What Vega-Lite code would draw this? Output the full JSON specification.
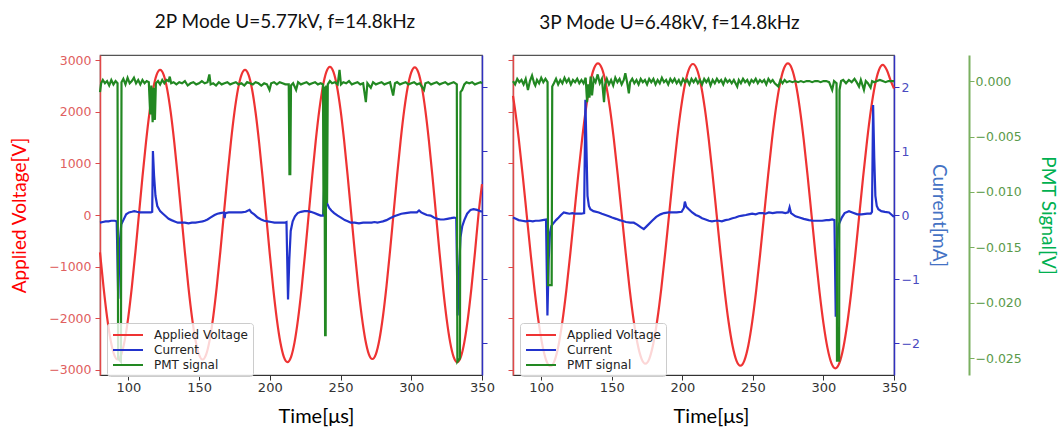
{
"$schema":"https://vega.github.io/schema/vega-lite/v6.json",
"background":"white",
"padding":{"left":10,"top":12,"right":20,"bottom":0},
"config":{"view":{"stroke":"#555","strokeWidth":1.2},"font":"Lato",
"axis":{"grid":false,"labelFont":"DejaVu Sans","labelFontSize":12.5,"titleFont":"Lato","titleFontWeight":"normal","titleFontSize":19,"tickSize":5},
"title":{"font":"Lato","fontSize":19,"fontWeight":"normal","color":"#111"},
"legend":{"orient":"none","legendX":7,"legendY":268,"title":null,"symbolType":"M-2.5,0H2.5","symbolSize":144,"symbolStrokeWidth":2,"symbolOffset":9,"labelOffset":19,"labelFont":"DejaVu Sans","labelFontSize":12,"labelColor":"#222","padding":5,"strokeColor":"#cccccc","fillColor":"rgba(255,255,255,0.8)","cornerRadius":3,"rowPadding":2}},
"datasets":{
"lv":[{"t":80,"v":-722},{"t":82.5,"v":-1398},{"t":85,"v":-1978},{"t":87.5,"v":-2424},{"t":90,"v":-2705},{"t":92.5,"v":-2800},{"t":95,"v":-2705},{"t":97.5,"v":-2424},{"t":100,"v":-1978},{"t":102.5,"v":-1398},{"t":105,"v":-722},{"t":107.5,"v":5},{"t":110,"v":732},{"t":112.5,"v":1408},{"t":115,"v":1988},{"t":117.5,"v":2434},{"t":120,"v":2715},{"t":122.5,"v":2810},{"t":125,"v":2715},{"t":127.5,"v":2434},{"t":130,"v":1988},{"t":132.5,"v":1408},{"t":135,"v":732},{"t":137.5,"v":5},{"t":140,"v":-722},{"t":142.5,"v":-1398},{"t":145,"v":-1978},{"t":147.5,"v":-2424},{"t":150,"v":-2705},{"t":152.5,"v":-2800},{"t":155,"v":-2705},{"t":157.5,"v":-2424},{"t":160,"v":-1978},{"t":162.5,"v":-1398},{"t":165,"v":-722},{"t":167.5,"v":5},{"t":170,"v":732},{"t":172.5,"v":1408},{"t":175,"v":1988},{"t":177.5,"v":2434},{"t":180,"v":2715},{"t":182.5,"v":2810},{"t":185,"v":2714},{"t":187.5,"v":2431},{"t":190,"v":1981},{"t":192.5,"v":1395},{"t":195,"v":713},{"t":197.5,"v":-20},{"t":200,"v":-753},{"t":202.5,"v":-1435},{"t":205,"v":-2021},{"t":207.5,"v":-2471},{"t":210,"v":-2754},{"t":212.5,"v":-2850},{"t":215,"v":-2753},{"t":217.5,"v":-2467},{"t":220,"v":-2012},{"t":222.5,"v":-1420},{"t":225,"v":-731},{"t":227.5,"v":10},{"t":230,"v":751},{"t":232.5,"v":1440},{"t":235,"v":2032},{"t":237.5,"v":2487},{"t":240,"v":2773},{"t":242.5,"v":2870},{"t":245,"v":2774},{"t":247.5,"v":2491},{"t":250,"v":2041},{"t":252.5,"v":1455},{"t":255,"v":773},{"t":257.5,"v":40},{"t":260,"v":-693},{"t":262.5,"v":-1375},{"t":265,"v":-1961},{"t":267.5,"v":-2411},{"t":270,"v":-2694},{"t":272.5,"v":-2790},{"t":275,"v":-2694},{"t":277.5,"v":-2411},{"t":280,"v":-1962},{"t":282.5,"v":-1378},{"t":285,"v":-697},{"t":287.5,"v":35},{"t":290,"v":767},{"t":292.5,"v":1448},{"t":295,"v":2032},{"t":297.5,"v":2481},{"t":300,"v":2764},{"t":302.5,"v":2860},{"t":305,"v":2763},{"t":307.5,"v":2477},{"t":310,"v":2023},{"t":312.5,"v":1433},{"t":315,"v":744},{"t":317.5,"v":5},{"t":320,"v":-734},{"t":322.5,"v":-1423},{"t":325,"v":-2013},{"t":327.5,"v":-2467},{"t":330,"v":-2753},{"t":332.5,"v":-2850},{"t":335,"v":-2753},{"t":337.5,"v":-2467},{"t":340,"v":-2013},{"t":342.5,"v":-1423},{"t":345,"v":-734},{"t":347.5,"v":5},{"t":350,"v":600}],
"lc":[{"t":80,"v":-0.12},{"t":82,"v":-0.11},{"t":84,"v":-0.1},{"t":86,"v":-0.1},{"t":88,"v":-0.09},{"t":90.5,"v":-0.09},{"t":91.8,"v":-0.1},{"t":92.9,"v":-1.31},{"t":93.9,"v":-0.45},{"t":95,"v":-0.15},{"t":96.5,"v":-0.08},{"t":98.5,"v":0.01},{"t":100.5,"v":0.04},{"t":102.5,"v":0.05},{"t":104.2,"v":0.06},{"t":106,"v":0.05},{"t":108,"v":0.04},{"t":110,"v":0.04},{"t":112,"v":0.04},{"t":114,"v":0.04},{"t":116,"v":0.04},{"t":116.9,"v":0.05},{"t":117.4,"v":1.0},{"t":118.2,"v":0.62},{"t":119.2,"v":0.3},{"t":120.5,"v":0.14},{"t":122.5,"v":0.06},{"t":124.5,"v":0.02},{"t":126.5,"v":-0.02},{"t":128.5,"v":-0.06},{"t":130.5,"v":-0.08},{"t":132.8,"v":-0.1},{"t":135,"v":-0.12},{"t":137.5,"v":-0.12},{"t":140,"v":-0.12},{"t":142.5,"v":-0.13},{"t":145,"v":-0.12},{"t":147.5,"v":-0.12},{"t":150,"v":-0.11},{"t":152.5,"v":-0.1},{"t":154,"v":-0.09},{"t":156,"v":-0.07},{"t":158,"v":-0.04},{"t":161,"v":0.0},{"t":163,"v":0.02},{"t":165,"v":0.03},{"t":167.6,"v":0.04},{"t":168.1,"v":-0.05},{"t":168.6,"v":0.03},{"t":171,"v":0.04},{"t":174,"v":0.04},{"t":177.5,"v":0.04},{"t":180,"v":0.04},{"t":183,"v":0.05},{"t":185.7,"v":0.08},{"t":187,"v":0.04},{"t":189,"v":0.01},{"t":191.5,"v":-0.04},{"t":193.9,"v":-0.07},{"t":196,"v":-0.09},{"t":198.5,"v":-0.1},{"t":201,"v":-0.11},{"t":203.3,"v":-0.12},{"t":206,"v":-0.12},{"t":208.5,"v":-0.12},{"t":210.5,"v":-0.12},{"t":211.8,"v":-0.11},{"t":212.9,"v":-1.32},{"t":213.8,"v":-0.7},{"t":214.8,"v":-0.25},{"t":216.2,"v":-0.1},{"t":217.8,"v":-0.02},{"t":219.7,"v":0.03},{"t":222,"v":0.05},{"t":224.5,"v":0.06},{"t":226.8,"v":0.06},{"t":229,"v":0.05},{"t":231.5,"v":0.03},{"t":233.8,"v":0.01},{"t":236,"v":-0.01},{"t":237.7,"v":-0.01},{"t":238.4,"v":0.4},{"t":239.3,"v":0.3},{"t":240.5,"v":0.18},{"t":242,"v":0.11},{"t":243.5,"v":0.07},{"t":245.5,"v":0.03},{"t":248,"v":-0.01},{"t":250.3,"v":-0.04},{"t":253,"v":-0.08},{"t":255.5,"v":-0.1},{"t":257.3,"v":-0.12},{"t":260,"v":-0.12},{"t":263,"v":-0.13},{"t":266,"v":-0.12},{"t":269,"v":-0.12},{"t":272,"v":-0.12},{"t":274,"v":-0.11},{"t":276.1,"v":-0.12},{"t":278,"v":-0.11},{"t":280,"v":-0.1},{"t":282.5,"v":-0.08},{"t":285,"v":-0.05},{"t":287.9,"v":-0.02},{"t":290.5,"v":0.0},{"t":293,"v":0.02},{"t":296,"v":0.03},{"t":299.6,"v":0.04},{"t":302,"v":0.04},{"t":304,"v":0.04},{"t":305.5,"v":0.07},{"t":307,"v":0.04},{"t":309,"v":0.02},{"t":311,"v":0.0},{"t":313.7,"v":-0.01},{"t":316,"v":-0.04},{"t":318.5,"v":-0.06},{"t":320.7,"v":-0.07},{"t":323,"v":-0.07},{"t":325.5,"v":-0.06},{"t":328,"v":-0.05},{"t":330.2,"v":-0.04},{"t":331.8,"v":-0.05},{"t":332.8,"v":-1.57},{"t":333.8,"v":-0.85},{"t":334.8,"v":-0.35},{"t":336,"v":-0.18},{"t":337.5,"v":-0.08},{"t":339.5,"v":0.02},{"t":341.9,"v":0.08},{"t":344,"v":0.09},{"t":346.5,"v":0.08},{"t":349,"v":0.06},{"t":350,"v":0.05}],
"lp":[{"t":80,"v":-0.001},{"t":80.8,"v":-0.0002},{"t":82,"v":0.0001},{"t":83.5,"v":-0.0002},{"t":85,"v":0.0},{"t":86.5,"v":-0.0004},{"t":88,"v":0.0001},{"t":89.5,"v":-0.0003},{"t":91,"v":0.0},{"t":92.4,"v":-0.0002},{"t":92.8,"v":-0.025},{"t":94.8,"v":-0.0253},{"t":95.2,"v":-0.0001},{"t":96.5,"v":0.0002},{"t":98,"v":-0.0003},{"t":99.5,"v":0.0003},{"t":101,"v":-0.0002},{"t":102.5,"v":0.0},{"t":104,"v":0.0003},{"t":105.5,"v":-0.0002},{"t":107,"v":0.0001},{"t":108.5,"v":-0.0003},{"t":110,"v":0.0001},{"t":111.5,"v":-0.0002},{"t":113,"v":0.0},{"t":114.5,"v":-0.0001},{"t":115.5,"v":-0.003},{"t":116.3,"v":-0.0004},{"t":117.2,"v":-0.0037},{"t":118,"v":-0.0006},{"t":118.8,"v":-0.0035},{"t":119.5,"v":-0.0002},{"t":121,"v":0.0},{"t":122.5,"v":-0.0003},{"t":124,"v":0.0001},{"t":125.5,"v":-0.0002},{"t":127,"v":0.0001},{"t":128.5,"v":0.0},{"t":129.3,"v":0.0004},{"t":130.3,"v":-0.0002},{"t":132,"v":-0.0001},{"t":134,"v":-0.0003},{"t":136,"v":-0.0001},{"t":138,"v":-0.0002},{"t":140,"v":0.0},{"t":142,"v":-0.0004},{"t":144,"v":-0.0002},{"t":146,"v":-0.0001},{"t":148,"v":-0.0003},{"t":150,"v":-0.0002},{"t":152,"v":0.0},{"t":154,"v":-0.0002},{"t":156,"v":-0.0001},{"t":157.3,"v":0.0006},{"t":158.2,"v":-0.0003},{"t":160,"v":-0.0002},{"t":162,"v":-0.0004},{"t":164,"v":-0.0001},{"t":166,"v":-0.0003},{"t":168,"v":-0.0002},{"t":170,"v":-0.0001},{"t":172,"v":-0.0003},{"t":174,"v":-0.0002},{"t":176,"v":-0.0001},{"t":178,"v":-0.0003},{"t":180,"v":-0.0002},{"t":182,"v":-0.0004},{"t":184,"v":-0.0001},{"t":186,"v":-0.0002},{"t":188,"v":-0.0003},{"t":190,"v":-0.0001},{"t":192,"v":-0.0002},{"t":194,"v":-0.0004},{"t":196,"v":-0.0002},{"t":198,"v":-0.0003},{"t":199.8,"v":-0.0008},{"t":201,"v":-0.0002},{"t":203,"v":-0.0001},{"t":205,"v":-0.0003},{"t":207,"v":-0.0001},{"t":209,"v":-0.0002},{"t":211,"v":-0.0003},{"t":213.4,"v":-0.0003},{"t":213.9,"v":-0.0084},{"t":214.5,"v":-0.0084},{"t":215,"v":-0.0004},{"t":216.5,"v":-0.0002},{"t":218.6,"v":-0.0008},{"t":220,"v":-0.0001},{"t":222,"v":-0.0003},{"t":224,"v":-0.0002},{"t":226,"v":-0.0001},{"t":228,"v":-0.0003},{"t":230,"v":-0.0002},{"t":232,"v":-0.0001},{"t":234,"v":-0.0003},{"t":236,"v":-0.0002},{"t":237.6,"v":-0.0003},{"t":238,"v":-0.012},{"t":238.6,"v":-0.0005},{"t":239.1,"v":-0.0229},{"t":239.5,"v":-0.0229},{"t":239.9,"v":-0.0004},{"t":240.5,"v":-0.011},{"t":241,"v":-0.0003},{"t":242.5,"v":0.0},{"t":244,"v":-0.0002},{"t":246,"v":-0.0001},{"t":248,"v":-0.0003},{"t":249.3,"v":0.001},{"t":250.3,"v":-0.0003},{"t":252,"v":-0.0001},{"t":254,"v":-0.0002},{"t":256,"v":0.0},{"t":258,"v":-0.0003},{"t":260,"v":-0.0002},{"t":262,"v":-0.0001},{"t":264,"v":-0.0003},{"t":266,"v":-0.0002},{"t":267.9,"v":-0.0019},{"t":269,"v":-0.0002},{"t":271.4,"v":-0.0006},{"t":273,"v":-0.0001},{"t":275,"v":-0.0003},{"t":277,"v":-0.0002},{"t":279,"v":-0.0001},{"t":281,"v":-0.0003},{"t":283,"v":-0.0002},{"t":285,"v":-0.0001},{"t":287.2,"v":-0.0013},{"t":288.5,"v":-0.0002},{"t":290,"v":-0.0001},{"t":292,"v":-0.0003},{"t":294,"v":-0.0002},{"t":296,"v":-0.0001},{"t":298,"v":-0.0003},{"t":300,"v":-0.0002},{"t":302,"v":-0.0001},{"t":304,"v":-0.0003},{"t":306,"v":-0.0002},{"t":309,"v":-0.0008},{"t":310,"v":-0.0002},{"t":312,"v":-0.0001},{"t":314,"v":-0.0003},{"t":316,"v":-0.0002},{"t":318,"v":-0.0001},{"t":320,"v":-0.0003},{"t":322,"v":-0.0002},{"t":324,"v":-0.0001},{"t":326,"v":-0.0003},{"t":328,"v":-0.0002},{"t":330,"v":-0.0001},{"t":332.2,"v":-0.0003},{"t":332.6,"v":-0.0253},{"t":334.4,"v":-0.025},{"t":334.8,"v":-0.001},{"t":336,"v":-0.0008},{"t":337.5,"v":-0.0003},{"t":339,"v":-0.0001},{"t":341,"v":-0.0002},{"t":343,"v":-0.0001},{"t":345,"v":-0.0003},{"t":347,"v":-0.0002},{"t":349,"v":-0.0001},{"t":350,"v":-0.0002}],
"rv":[{"t":80,"v":2309},{"t":81.31,"v":2072},{"t":84.12,"v":1465},{"t":86.92,"v":759},{"t":89.72,"v":0},{"t":92.53,"v":-759},{"t":95.33,"v":-1465},{"t":98.14,"v":-2072},{"t":100.94,"v":-2537},{"t":103.74,"v":-2830},{"t":106.55,"v":-2930},{"t":109.35,"v":-2830},{"t":112.16,"v":-2537},{"t":114.96,"v":-2070},{"t":117.77,"v":-1463},{"t":120.57,"v":-756},{"t":123.38,"v":4},{"t":126.18,"v":764},{"t":128.98,"v":1471},{"t":131.79,"v":2078},{"t":134.59,"v":2545},{"t":137.4,"v":2838},{"t":140.2,"v":2938},{"t":142.99,"v":2839},{"t":145.79,"v":2548},{"t":148.6,"v":2086},{"t":151.4,"v":1484},{"t":154.21,"v":782},{"t":157.01,"v":29},{"t":159.82,"v":-724},{"t":162.62,"v":-1426},{"t":165.43,"v":-2028},{"t":168.23,"v":-2490},{"t":171.04,"v":-2781},{"t":173.85,"v":-2880},{"t":176.65,"v":-2781},{"t":179.46,"v":-2491},{"t":182.26,"v":-2029},{"t":185.07,"v":-1429},{"t":187.87,"v":-729},{"t":190.68,"v":23},{"t":193.48,"v":775},{"t":196.29,"v":1475},{"t":199.09,"v":2075},{"t":201.9,"v":2537},{"t":204.7,"v":2827},{"t":207.5,"v":2926},{"t":210.3,"v":2827},{"t":213.11,"v":2534},{"t":215.91,"v":2070},{"t":218.72,"v":1465},{"t":221.52,"v":760},{"t":224.33,"v":3},{"t":227.13,"v":-754},{"t":229.94,"v":-1459},{"t":232.74,"v":-2064},{"t":235.55,"v":-2528},{"t":238.35,"v":-2821},{"t":241.15,"v":-2920},{"t":243.95,"v":-2820},{"t":246.76,"v":-2528},{"t":249.56,"v":-2062},{"t":252.37,"v":-1456},{"t":255.17,"v":-750},{"t":257.98,"v":9},{"t":260.78,"v":768},{"t":263.59,"v":1474},{"t":266.39,"v":2080},{"t":269.2,"v":2546},{"t":272,"v":2838},{"t":274.8,"v":2938},{"t":277.6,"v":2838},{"t":280.41,"v":2542},{"t":283.21,"v":2072},{"t":286.02,"v":1461},{"t":288.82,"v":749},{"t":291.63,"v":-16},{"t":294.43,"v":-781},{"t":297.24,"v":-1493},{"t":300.04,"v":-2104},{"t":302.85,"v":-2574},{"t":305.65,"v":-2870},{"t":308.45,"v":-2970},{"t":311.25,"v":-2870},{"t":314.06,"v":-2576},{"t":316.86,"v":-2109},{"t":319.67,"v":-1501},{"t":322.47,"v":-793},{"t":325.28,"v":-31},{"t":328.08,"v":730},{"t":330.89,"v":1438},{"t":333.69,"v":2046},{"t":336.5,"v":2513},{"t":339.3,"v":2807},{"t":342.1,"v":2907},{"t":344.9,"v":2808},{"t":347.71,"v":2600},{"t":350,"v":2450}],
"rc":[{"t":80,"v":-0.04},{"t":82,"v":-0.06},{"t":84,"v":-0.08},{"t":86.4,"v":-0.09},{"t":89,"v":-0.1},{"t":91.5,"v":-0.09},{"t":94,"v":-0.1},{"t":96,"v":-0.09},{"t":98.5,"v":-0.09},{"t":101,"v":-0.08},{"t":103.4,"v":-0.07},{"t":104.4,"v":-1.57},{"t":105.3,"v":-0.7},{"t":106.2,"v":-0.28},{"t":107.2,"v":-0.17},{"t":109,"v":-0.12},{"t":110.5,"v":-0.08},{"t":112.4,"v":-0.04},{"t":114,"v":0.0},{"t":116,"v":0.04},{"t":118,"v":0.03},{"t":120,"v":0.02},{"t":122,"v":0.03},{"t":124.2,"v":0.02},{"t":126.5,"v":0.02},{"t":128.5,"v":0.02},{"t":130.4,"v":0.03},{"t":131.3,"v":1.8},{"t":132.1,"v":1.0},{"t":132.8,"v":0.3},{"t":133.8,"v":0.14},{"t":134.8,"v":0.09},{"t":137,"v":0.06},{"t":140.8,"v":0.04},{"t":143,"v":0.02},{"t":145.5,"v":0.0},{"t":148,"v":-0.02},{"t":150.2,"v":-0.04},{"t":153,"v":-0.06},{"t":155.5,"v":-0.08},{"t":157.3,"v":-0.09},{"t":160,"v":-0.11},{"t":163,"v":-0.12},{"t":165.6,"v":-0.12},{"t":168,"v":-0.15},{"t":170.5,"v":-0.19},{"t":172.7,"v":-0.22},{"t":175,"v":-0.17},{"t":178.6,"v":-0.09},{"t":181.5,"v":-0.03},{"t":184.5,"v":0.01},{"t":187,"v":0.03},{"t":190.4,"v":0.04},{"t":193,"v":0.04},{"t":196,"v":0.04},{"t":199.5,"v":0.05},{"t":201.1,"v":0.11},{"t":201.8,"v":0.21},{"t":202.8,"v":0.13},{"t":204.6,"v":0.09},{"t":207,"v":0.04},{"t":209.5,"v":0.0},{"t":211.7,"v":-0.02},{"t":214,"v":-0.05},{"t":216.5,"v":-0.07},{"t":218.8,"v":-0.09},{"t":221,"v":-0.1},{"t":223.5,"v":-0.09},{"t":225.9,"v":-0.09},{"t":228,"v":-0.1},{"t":230.5,"v":-0.08},{"t":233,"v":-0.07},{"t":235.5,"v":-0.05},{"t":237.7,"v":-0.04},{"t":240,"v":-0.02},{"t":242.5,"v":-0.01},{"t":245,"v":0.0},{"t":247,"v":0.01},{"t":249.5,"v":0.02},{"t":252,"v":0.01},{"t":254.5,"v":0.03},{"t":257,"v":0.03},{"t":259,"v":0.02},{"t":261.3,"v":0.04},{"t":264,"v":0.03},{"t":267,"v":0.04},{"t":270.8,"v":0.04},{"t":273,"v":0.03},{"t":275,"v":0.04},{"t":276,"v":0.12},{"t":277,"v":0.03},{"t":280.2,"v":-0.02},{"t":283,"v":-0.04},{"t":286,"v":-0.06},{"t":289.7,"v":-0.08},{"t":292.5,"v":-0.09},{"t":296,"v":-0.09},{"t":299.1,"v":-0.09},{"t":302,"v":-0.08},{"t":304,"v":-0.08},{"t":306.2,"v":-0.07},{"t":307.8,"v":-0.08},{"t":308.7,"v":-1.59},{"t":309.6,"v":-0.55},{"t":310.4,"v":-0.2},{"t":311.2,"v":-0.13},{"t":313,"v":-0.04},{"t":315,"v":0.03},{"t":318.1,"v":0.06},{"t":320.5,"v":0.04},{"t":324,"v":0.01},{"t":327,"v":0.01},{"t":331,"v":0.02},{"t":333.5,"v":0.02},{"t":334.4,"v":0.05},{"t":335.2,"v":1.72},{"t":336,"v":0.9},{"t":336.8,"v":0.3},{"t":337.8,"v":0.14},{"t":338.9,"v":0.09},{"t":341,"v":0.06},{"t":343.5,"v":0.05},{"t":346.5,"v":0.04},{"t":348.5,"v":0.0},{"t":350,"v":-0.03}],
"rp":[{"t":80,"v":0.0},{"t":81.5,"v":-0.0003},{"t":83,"v":0.0002},{"t":84.5,"v":-0.0001},{"t":86,"v":0.0001},{"t":87.5,"v":-0.0003},{"t":89,"v":0.0002},{"t":90.6,"v":-0.0008},{"t":92,"v":0.0},{"t":93.5,"v":0.0005},{"t":95,"v":-0.0002},{"t":95.8,"v":-0.0004},{"t":97,"v":0.0001},{"t":98.5,"v":-0.0002},{"t":100,"v":0.0003},{"t":101.5,"v":-0.0001},{"t":103,"v":0.0002},{"t":104.5,"v":-0.0001},{"t":104.9,"v":-0.0184},{"t":107.4,"v":-0.0184},{"t":107.8,"v":-0.0005},{"t":109,"v":-0.0002},{"t":110.5,"v":0.0002},{"t":112,"v":-0.0003},{"t":113.5,"v":0.0001},{"t":115,"v":-0.0002},{"t":116.5,"v":0.0003},{"t":118,"v":-0.0001},{"t":119.5,"v":0.0002},{"t":121,"v":-0.0003},{"t":122.5,"v":0.0001},{"t":124,"v":-0.0001},{"t":125.5,"v":0.0002},{"t":127,"v":-0.0002},{"t":128.5,"v":0.0001},{"t":130,"v":-0.0002},{"t":131.5,"v":0.0003},{"t":132.5,"v":-0.0019},{"t":133.3,"v":-0.0003},{"t":134.2,"v":-0.0015},{"t":135,"v":0.0004},{"t":136,"v":-0.0013},{"t":137.2,"v":0.0002},{"t":138.5,"v":-0.0001},{"t":140,"v":0.0006},{"t":141.5,"v":-0.0002},{"t":143,"v":0.0002},{"t":144.5,"v":-0.0019},{"t":145.3,"v":-0.0003},{"t":146.5,"v":0.0002},{"t":148,"v":-0.0003},{"t":149.5,"v":0.0001},{"t":151,"v":-0.0004},{"t":152.5,"v":0.0003},{"t":154,"v":-0.0001},{"t":155.5,"v":0.0002},{"t":157,"v":-0.0003},{"t":158.5,"v":0.0001},{"t":159.6,"v":0.0007},{"t":161,"v":-0.0002},{"t":162.1,"v":-0.0011},{"t":163,"v":-0.0001},{"t":164.5,"v":0.0002},{"t":166,"v":-0.0002},{"t":167.5,"v":0.0001},{"t":169,"v":-0.0003},{"t":170.5,"v":0.0002},{"t":172,"v":-0.0001},{"t":173.5,"v":0.0001},{"t":175,"v":-0.0003},{"t":176.5,"v":0.0002},{"t":178,"v":-0.0001},{"t":179.5,"v":0.0002},{"t":181,"v":-0.0003},{"t":182.5,"v":0.0001},{"t":184,"v":-0.0002},{"t":185.5,"v":0.0003},{"t":187,"v":-0.0001},{"t":188.5,"v":0.0001},{"t":190,"v":-0.0003},{"t":191.5,"v":0.0002},{"t":193,"v":-0.0001},{"t":194.5,"v":0.0002},{"t":196,"v":-0.0002},{"t":197.5,"v":0.0001},{"t":199,"v":-0.0003},{"t":200.5,"v":0.0002},{"t":202,"v":-0.0001},{"t":203.5,"v":0.0001},{"t":205,"v":-0.0003},{"t":206.5,"v":0.0002},{"t":208,"v":-0.0001},{"t":209.5,"v":0.0002},{"t":211,"v":-0.0002},{"t":212.5,"v":0.0001},{"t":214,"v":-0.0003},{"t":215.5,"v":0.0002},{"t":217,"v":-0.0001},{"t":218.5,"v":0.0002},{"t":220,"v":-0.0004},{"t":221.5,"v":0.0001},{"t":223,"v":-0.0002},{"t":224.5,"v":0.0002},{"t":226,"v":-0.0001},{"t":227.5,"v":0.0001},{"t":229,"v":-0.0003},{"t":230.5,"v":0.0002},{"t":232,"v":-0.0001},{"t":233.5,"v":0.0001},{"t":235,"v":-0.0002},{"t":236.5,"v":0.0001},{"t":238.9,"v":-0.0005},{"t":240,"v":0.0001},{"t":241.5,"v":-0.0002},{"t":243,"v":0.0002},{"t":244.5,"v":-0.0001},{"t":246,"v":0.0001},{"t":247.5,"v":-0.0003},{"t":249,"v":0.0001},{"t":250.5,"v":-0.0001},{"t":252,"v":0.0002},{"t":253.5,"v":-0.0002},{"t":255,"v":0.0001},{"t":256.5,"v":-0.0001},{"t":258,"v":0.0001},{"t":259.5,"v":-0.0003},{"t":261,"v":0.0002},{"t":262.5,"v":-0.0001},{"t":264,"v":0.0001},{"t":265.5,"v":-0.0002},{"t":268,"v":-0.0005},{"t":269.5,"v":0.0001},{"t":271,"v":-0.0002},{"t":272.5,"v":0.0001},{"t":274,"v":-0.0001},{"t":276,"v":0.0},{"t":278,"v":-0.0001},{"t":280,"v":0.0},{"t":282,"v":-0.0001},{"t":284,"v":0.0},{"t":286,"v":-0.0001},{"t":288,"v":0.0},{"t":290,"v":0.0},{"t":292,"v":-0.0001},{"t":294,"v":0.0},{"t":296,"v":0.0},{"t":298,"v":-0.0001},{"t":300,"v":0.0},{"t":302,"v":0.0},{"t":304,"v":-0.0001},{"t":306.2,"v":-0.0008},{"t":307.5,"v":0.0},{"t":309.3,"v":-0.0002},{"t":309.6,"v":-0.0252},{"t":311.1,"v":-0.0252},{"t":311.4,"v":-0.0008},{"t":312.5,"v":0.0},{"t":314,"v":0.0001},{"t":316,"v":-0.0002},{"t":318,"v":0.0001},{"t":320,"v":-0.0001},{"t":322,"v":0.0002},{"t":323.5,"v":-0.0001},{"t":325.2,"v":-0.0005},{"t":326.5,"v":0.0001},{"t":328.7,"v":-0.0008},{"t":330,"v":0.0},{"t":331.5,"v":-0.0002},{"t":333.4,"v":-0.0006},{"t":334.5,"v":0.0},{"t":336,"v":-0.0001},{"t":338,"v":0.0},{"t":340,"v":0.0001},{"t":342,"v":0.0},{"t":344,"v":-0.0001},{"t":346,"v":0.0},{"t":348,"v":0.0},{"t":350,"v":0.0}]
},
"spacing":10,
"resolve":{"scale":{"color":"independent"}},
"hconcat":[
{"width":382,"height":320,
"title":{"text":"2P Mode U=5.77kV, f=14.8kHz","dx":-6,"offset":22},
"encoding":{"x":{"field":"t","type":"quantitative","scale":{"domain":[80,350],"nice":false,"zero":false},"axis":{"values":[100,150,200,250,300,350],"labelFlush":false,"labelFontSize":13,"labelColor":"#333","domainColor":"#333","tickColor":"#333","labelPadding":1,"title":"Time[μs]","titleFontSize":20,"titleColor":"#000","titlePadding":12,"titleX":216}}},
"layer":[
{"data":{"name":"lv"},"mark":{"type":"line","strokeWidth":2.2,"interpolate":"monotone"},
"encoding":{"y":{"field":"v","type":"quantitative","scale":{"domain":[-3100,3100],"nice":false,"zero":false},"axis":{"orient":"left","values":[-3000,-2000,-1000,0,1000,2000,3000],"format":"d","labelColor":"#e06060","labelPadding":4,"domainColor":"#e04848","domainWidth":1.5,"tickColor":"#e04848","title":"Applied Voltage[V]","titleColor":"#ff0000","titlePadding":19}},
"color":{"datum":"Applied Voltage","type":"nominal","scale":{"domain":["Applied Voltage","Current","PMT signal"],"range":["#ee3333","#2233cc","#228822"]}}}},
{"data":{"name":"lc"},"mark":{"type":"line","strokeWidth":2.2},
"encoding":{"y":{"field":"v","type":"quantitative","scale":{"domain":[-2.5,2.5],"nice":false,"zero":false},"axis":{"orient":"right","values":[-2,-1,0,1,2],"labels":false,"title":null,"domainColor":"#3030c0","domainWidth":1.5,"tickColor":"#3030c0"}},
"color":{"datum":"Current","type":"nominal"}}},
{"data":{"name":"lp"},"mark":{"type":"line","strokeWidth":2.2},
"encoding":{"y":{"field":"v","type":"quantitative","scale":{"domain":[-0.0265,0.00235],"nice":false,"zero":false},"axis":null},
"color":{"datum":"PMT signal","type":"nominal"}}}
],
"resolve":{"scale":{"y":"independent"},"axis":{"y":"independent"}}},
{"width":381,"height":320,
"title":{"text":"3P Mode U=6.48kV, f=14.8kHz","dx":-34,"offset":22},
"encoding":{"x":{"field":"t","type":"quantitative","scale":{"domain":[80,350],"nice":false,"zero":false},"axis":{"values":[100,150,200,250,300,350],"labelFlush":false,"labelFontSize":13,"labelColor":"#333","domainColor":"#333","tickColor":"#333","labelPadding":1,"title":"Time[μs]","titleFontSize":20,"titleColor":"#000","titlePadding":12,"titleX":198}}},
"layer":[
{"data":{"name":"rv"},"mark":{"type":"line","strokeWidth":2.2,"interpolate":"monotone"},
"encoding":{"y":{"field":"v","type":"quantitative","scale":{"domain":[-3100,3100],"nice":false,"zero":false},"axis":{"orient":"left","values":[-3000,-2000,-1000,0,1000,2000,3000],"labels":false,"title":null,"domainColor":"#e04848","domainWidth":1.5,"tickColor":"#e04848"}},
"color":{"datum":"Applied Voltage","type":"nominal","scale":{"domain":["Applied Voltage","Current","PMT signal"],"range":["#ee3333","#2233cc","#228822"]}}}},
{"data":{"name":"rc"},"mark":{"type":"line","strokeWidth":2.2},
"encoding":{"y":{"field":"v","type":"quantitative","scale":{"domain":[-2.5,2.5],"nice":false,"zero":false},"axis":{"orient":"right","values":[-2,-1,0,1,2],"format":"d","labelColor":"#4a4ac0","title":"Current[mA]","titleColor":"#4472c4","titlePadding":9,"domainColor":"#3030c0","domainWidth":1.5,"tickColor":"#3030c0"}},
"color":{"datum":"Current","type":"nominal"}}},
{"data":{"name":"rp"},"mark":{"type":"line","strokeWidth":2.2},
"encoding":{"y":{"field":"v","type":"quantitative","scale":{"domain":[-0.0265,0.00235],"nice":false,"zero":false},"axis":{"orient":"right","offset":75,"values":[0,-0.005,-0.01,-0.015,-0.02,-0.025],"format":".3f","labelColor":"#5a9a4a","labelPadding":1,"domainColor":"#7ab060","domainWidth":2,"tickColor":"#7ab060","title":"PMT Signal[V]","titleColor":"#00b050","titleFontSize":19,"titlePadding":16}},
"color":{"datum":"PMT signal","type":"nominal"}}}
],
"resolve":{"scale":{"y":"independent"},"axis":{"y":"independent"}}}
]
}
